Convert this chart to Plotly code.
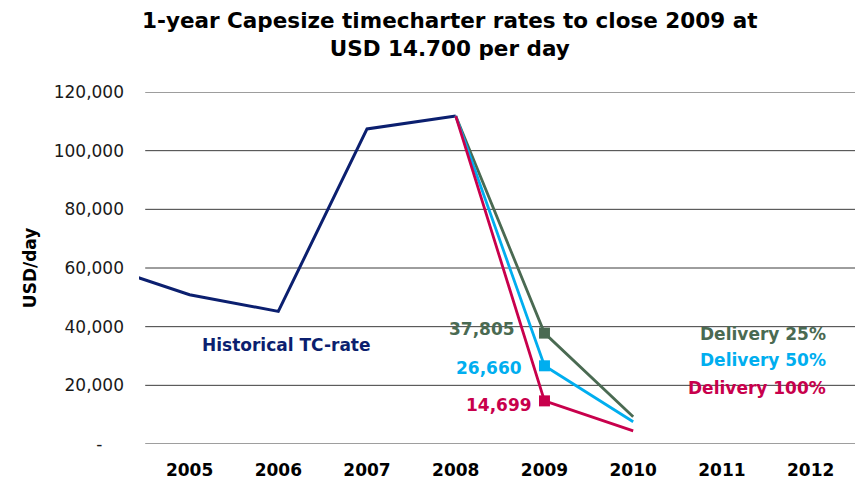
import plotly.graph_objects as go

# Historical 1-year Capesize timecharter rate (USD/day); the 2004 point is cut off by the axis range
hist_years = [2004, 2005, 2006, 2007, 2008]
hist_rates = [61000, 50900, 45200, 107400, 111800]

# Scenario paths from 2008 through 2010 for different newbuilding delivery shares
scen_years = [2008, 2009, 2010]
delivery_25 = [111800, 37805, 9300]
delivery_50 = [111800, 26660, 7600]
delivery_100 = [111800, 14699, 4500]

year_labels = [2005, 2006, 2007, 2008, 2009, 2010, 2011, 2012]
y_ticks = [0, 20000, 40000, 60000, 80000, 100000, 120000]
y_ticktext = ["-" + "\u00a0" * 4, "20,000", "40,000", "60,000", "80,000", "100,000", "120,000"]

TITLE = "1-year Capesize timecharter rates to close 2009 at<br>USD 14.700 per day"

NAVY = "#0b1f6f"
GREEN = "#4a6a52"
CYAN = "#00aeef"
CRIMSON = "#c8004c"
FONT = "DejaVu Sans, Verdana, sans-serif"

fig = go.Figure()

fig.add_trace(go.Scatter(x=hist_years, y=hist_rates, mode="lines",
                         line=dict(color=NAVY, width=3), showlegend=False))

scenarios = [
    (delivery_25, GREEN, 27, 4),
    (delivery_50, CYAN, 20, -2),
    (delivery_100, CRIMSON, 10, -4),
]
for values, color, dx, dy in scenarios:
    fig.add_trace(go.Scatter(
        x=scen_years, y=values, mode="lines",
        line=dict(color=color, width=2.8), showlegend=False))
for values, color, dx, dy in scenarios:
    fig.add_trace(go.Scatter(
        x=[scen_years[1]], y=[values[1]], mode="markers",
        marker=dict(symbol="square", size=11, color=color), showlegend=False))
    fig.add_annotation(x=scen_years[1], y=values[1], text=f"<b>{values[1]:,}</b>",
                       showarrow=False, xanchor="right", yanchor="middle",
                       xshift=-dx, yshift=dy,
                       font=dict(family=FONT, size=17, color=color))

# Horizontal gridlines spanning the category area
for v in y_ticks:
    fig.add_shape(type="line", xref="x", yref="y", x0=2004.5, x1=2012.5, y0=v, y1=v,
                  line=dict(color="#3c3c3c", width=1), layer="below")

fig.add_annotation(x=2006.09, y=33600, text="<b>Historical TC-rate</b>", showarrow=False,
                   font=dict(family=FONT, size=17, color=NAVY))

for label, color, ypos in [("Delivery 25%", GREEN, 0.313),
                           ("Delivery 50%", CYAN, 0.238),
                           ("Delivery 100%", CRIMSON, 0.158)]:
    fig.add_annotation(xref="paper", yref="paper", x=0.962, y=ypos, text=f"<b>{label}</b>",
                       showarrow=False, xanchor="right", yanchor="middle",
                       font=dict(family=FONT, size=17, color=color))

fig.add_annotation(xref="paper", yref="paper", x=-0.152, y=0.5, text="<b>USD/day</b>",
                   textangle=-90, showarrow=False, xanchor="center", yanchor="middle",
                   font=dict(family=FONT, size=17, color="#000000"))

# Two-line chart title above the plot area
fig.add_annotation(xref="paper", yref="paper", x=0.433, y=1.243, text=f"<b>{TITLE}</b>",
                   showarrow=False, xanchor="center", yanchor="top", align="center",
                   font=dict(family=FONT, size=21.5, color="#000000"))

fig.update_layout(
    width=865, height=490,
    margin=dict(l=139, r=10, t=92, b=37),
    paper_bgcolor="white", plot_bgcolor="white",
    font=dict(family=FONT, size=17, color="#000000"),
    xaxis=dict(range=[2004.43, 2012.5], tickmode="array", tickvals=year_labels,
               ticktext=[f"<b>{y}</b>" for y in year_labels],
               showgrid=False, zeroline=False, showline=False, ticks="",
               ticklabelstandoff=14, tickfont=dict(family=FONT, size=17)),
    yaxis=dict(range=[0, 120000], tickmode="array", tickvals=y_ticks, ticktext=y_ticktext,
               showgrid=False, zeroline=False, showline=False, ticks="",
               ticklabelstandoff=14, tickfont=dict(family=FONT, size=17, color="#1a1a1a")),
)

fig.write_html("out.html")
